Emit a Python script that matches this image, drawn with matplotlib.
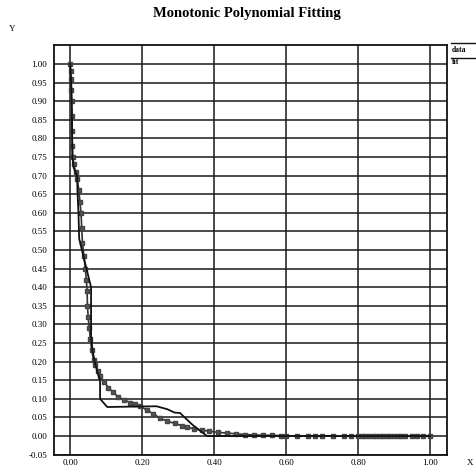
#!/usr/bin/env python3

"""Monotonic polynomial fit of a decaying curve, scanned-report look."""

import numpy as np
import matplotlib
matplotlib.use("Agg")
import matplotlib.pyplot as plt
from matplotlib.lines import Line2D

# measured points (small square markers)
data_x = [0.000, 0.001, 0.002, 0.003, 0.004, 0.005, 0.005, 0.006, 0.007, 0.010,
          0.015, 0.020, 0.024, 0.027, 0.030, 0.032, 0.034, 0.038, 0.042, 0.045,
          0.047, 0.048, 0.050, 0.053, 0.056, 0.060, 0.065, 0.070, 0.077, 0.083,
          0.095, 0.106, 0.120, 0.133, 0.150, 0.167, 0.180, 0.194, 0.213, 0.230,
          0.250, 0.270, 0.290, 0.310, 0.325, 0.345, 0.365, 0.385, 0.410, 0.435,
          0.460, 0.485, 0.510, 0.535, 0.560, 0.585, 0.600, 0.630, 0.660, 0.680,
          0.700, 0.730, 0.760, 0.780, 0.800, 0.810, 0.820, 0.830, 0.840, 0.850,
          0.860, 0.870, 0.880, 0.890, 0.900, 0.910, 0.920, 0.930, 0.950, 0.965,
          0.980, 1.000]
data_y = [1.000, 0.980, 0.960, 0.930, 0.900, 0.860, 0.820, 0.780, 0.750, 0.730,
          0.710, 0.690, 0.660, 0.630, 0.600, 0.560, 0.520, 0.485, 0.450, 0.420,
          0.390, 0.350, 0.320, 0.290, 0.260, 0.230, 0.205, 0.190, 0.175, 0.160,
          0.145, 0.130, 0.117, 0.105, 0.097, 0.090, 0.085, 0.080, 0.070, 0.060,
          0.048, 0.040, 0.034, 0.028, 0.024, 0.019, 0.016, 0.013, 0.010, 0.008,
          0.006, 0.004, 0.003, 0.002, 0.002, 0.001, 0.000, 0.000, 0.000, 0.000,
          0.000, 0.000, 0.000, 0.000, 0.000, 0.000, 0.000, 0.000, 0.000, 0.000,
          0.000, 0.000, 0.000, 0.000, 0.000, 0.000, 0.000, 0.000, 0.000, 0.000,
          0.000, 0.000]

# monotonic polynomial fit (piecewise as drawn)
fit_x = [0.000, 0.003, 0.005, 0.006, 0.010, 0.019, 0.021, 0.023, 0.025, 0.040,
         0.058, 0.058, 0.062, 0.068, 0.076, 0.083, 0.083, 0.103, 0.170, 0.240,
         0.270, 0.290, 0.305, 0.340, 0.380, 0.600, 0.800, 1.000]
fit_y = [1.000, 0.950, 0.850, 0.750, 0.720, 0.700, 0.640, 0.600, 0.530, 0.470,
         0.400, 0.270, 0.230, 0.200, 0.170, 0.150, 0.100, 0.078, 0.079, 0.080,
         0.072, 0.063, 0.062, 0.030, 0.000, 0.000, 0.000, 0.000]

x_ticks = [0.0, 0.2, 0.4, 0.6, 0.8, 1.0]
y_ticks = [round(-0.05 + 0.05 * i, 2) for i in range(22)]

plt.rcParams['font.family'] = ['Liberation Serif', 'DejaVu Serif']

fig = plt.figure(figsize=(4.76, 4.69), dpi=100)
ax = fig.add_axes([54 / 476, 14 / 469, 393 / 476, 410 / 469])

ax.plot(data_x, data_y, '-', color='#333333', lw=1.2,
        marker='s', ms=2.5, mfc='#555555', mec='#444444', zorder=3)
ax.plot(fit_x, fit_y, '-', color='#111111', lw=1.3, zorder=4)

ax.set_xlim(-0.045, 1.047)
ax.set_ylim(-0.051, 1.051)
ax.set_xticks(x_ticks)
ax.set_yticks(y_ticks)
ax.set_xticklabels(["%.2f" % v for v in x_ticks])
ax.set_yticklabels(["%.2f" % v for v in y_ticks])
ax.tick_params(length=0, labelsize=6.5, pad=5)
ax.tick_params(axis='x', pad=3)
ax.grid(True, color='#1a1a1a', lw=1.1)
ax.set_axisbelow(True)
for sp in ax.spines.values():
    sp.set_linewidth(1.3)
    sp.set_color('#111111')

fig.text(247 / 476, 1 - 14 / 469, "Monotonic Polynomial Fitting",
         ha='center', va='center', fontsize=10.5, fontweight='bold')
fig.text(12 / 476, 1 - 29 / 469, "Y", ha='center', va='center', fontsize=6.5)
fig.text(470 / 476, 1 - 463 / 469, "X", ha='center', va='center', fontsize=6.5)

# legend outside to the right: line sample above each label
for yl, yt, lab in [(43, 50, "data"), (58, 62, "fit")]:
    fig.add_artist(Line2D([451 / 476, 476 / 476], [1 - yl / 469, 1 - yl / 469],
                          transform=fig.transFigure, color='#111111', lw=1.0))
    fig.text(452 / 476, 1 - yt / 469, lab, ha='left', va='center',
             fontsize=5.5, fontweight='bold')

fig.savefig("out.png", dpi=100)
